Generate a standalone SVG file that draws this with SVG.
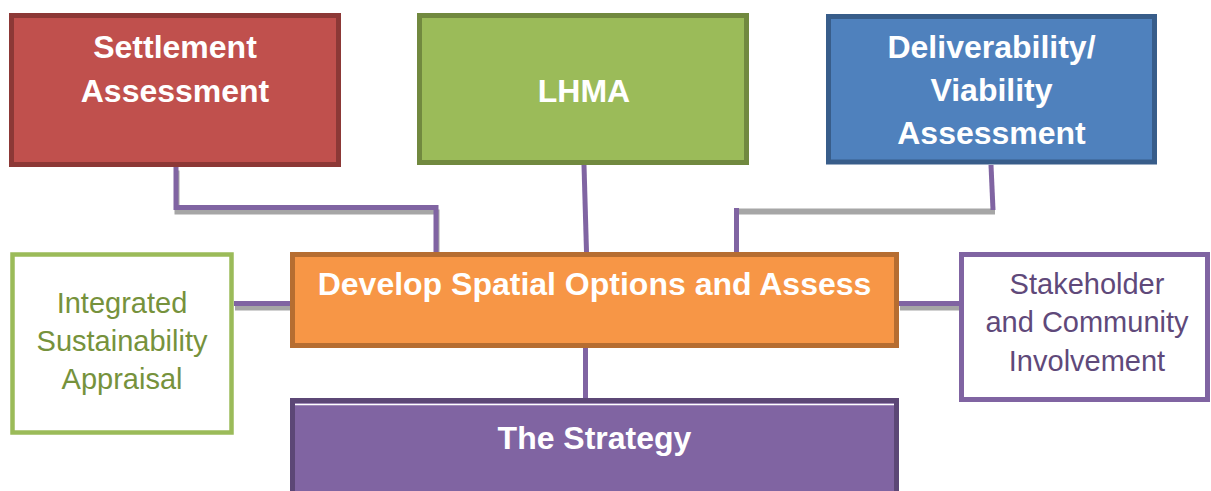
<svg xmlns="http://www.w3.org/2000/svg" width="1211" height="491" viewBox="0 0 1211 491">
  <style>
    .box { stroke-width: 5; }
    .bold { font-family: "Liberation Sans", Arial, sans-serif; font-weight: bold; font-size: 32px; fill: #ffffff; text-anchor: middle; }
    .reg { font-family: "Liberation Sans", Arial, sans-serif; font-size: 29px; text-anchor: middle; }
    .conn { fill: none; stroke: #8064A2; stroke-width: 5; }
    .shadow { fill: none; stroke: #A6A6A6; stroke-width: 5; }
  </style>
  <rect width="1211" height="491" fill="#ffffff"/>
  <g id="connectors">
    <g transform="translate(1,4.5)">
      <path class="shadow" d="M176,166 V207.5 H436 V252"/>
      <path class="shadow" d="M234,303.5 H290"/>
      <path class="shadow" d="M899,303.5 H959"/>
    </g>
    <path class="conn" d="M176,166 V207.5 H436 V252"/>
    <path class="conn" d="M584,165 L586.5,252"/>
    <path d="M735,211.5 H995" fill="none" stroke="#A6A6A6" stroke-width="6"/>
    <path class="conn" d="M991,165 L993,210"/>
    <path class="conn" d="M736.5,208 V252"/>
    <path class="conn" d="M234,303.5 H290"/>
    <path class="conn" d="M899,303.5 H959"/>
    <path class="conn" d="M585.5,348 V403"/>
  </g>
  <g id="settlement">
    <rect class="box" x="11.5" y="15.5" width="327" height="149" fill="#C0504D" stroke="#8C3836"/>
    <text class="bold" x="175" y="58">Settlement</text>
    <text class="bold" x="175" y="102">Assessment</text>
  </g>
  <g id="lhma">
    <rect class="box" x="419.5" y="15.5" width="327" height="147" fill="#9BBB59" stroke="#71893F"/>
    <text class="bold" x="584" y="102">LHMA</text>
  </g>
  <g id="deliverability">
    <rect class="box" x="828.5" y="16.5" width="326" height="145.5" fill="#4F81BD" stroke="#385D8A"/>
    <text class="bold" x="991.5" y="58">Deliverability/</text>
    <text class="bold" x="991.5" y="101">Viability</text>
    <text class="bold" x="991.5" y="144">Assessment</text>
  </g>
  <g id="develop">
    <rect class="box" x="292.5" y="254.5" width="604" height="91" fill="#F79646" stroke="#B66D31"/>
    <text class="bold" x="594.5" y="295">Develop Spatial Options and Assess</text>
  </g>
  <g id="integrated">
    <rect x="12.5" y="254.5" width="219" height="178" fill="#ffffff" stroke="#9BBB59" stroke-width="4.5"/>
    <text class="reg" x="122" y="313" fill="#76923C">Integrated</text>
    <text class="reg" x="122" y="351" fill="#76923C">Sustainability</text>
    <text class="reg" x="122" y="389" fill="#76923C">Appraisal</text>
  </g>
  <g id="stakeholder">
    <rect class="box" x="961.5" y="254.5" width="246" height="145" fill="#ffffff" stroke="#8064A2"/>
    <text class="reg" x="1087" y="294" fill="#5F497A">Stakeholder</text>
    <text class="reg" x="1087" y="332" fill="#5F497A">and Community</text>
    <text class="reg" x="1087" y="371" fill="#5F497A">Involvement</text>
  </g>
  <g id="strategy">
    <rect class="box" x="292.5" y="400.5" width="604" height="100" fill="#8064A2" stroke="#5C4776"/>
    <line x1="295" y1="404.5" x2="894" y2="404.5" stroke="#ffffff" stroke-width="1.5"/>
    <text class="bold" x="594.5" y="449">The Strategy</text>
  </g>
</svg>
